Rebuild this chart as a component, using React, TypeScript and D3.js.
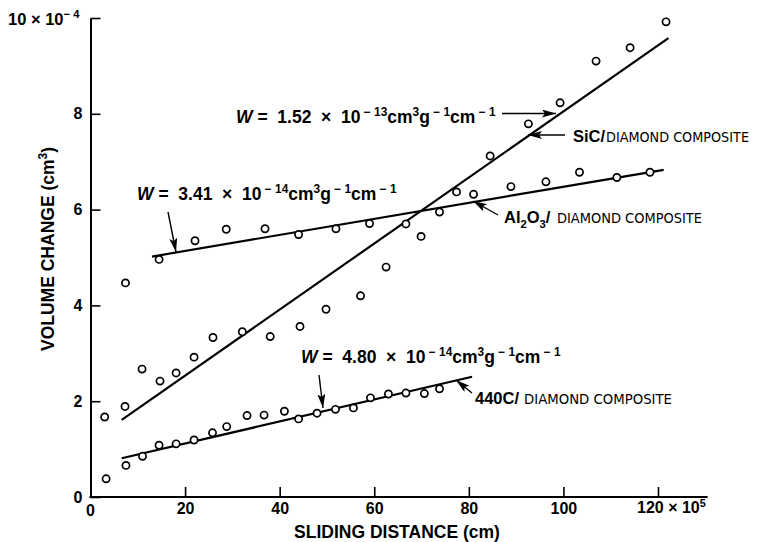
import React, { useEffect, useRef } from 'react';
import * as d3 from 'd3';

// values (sliding distance x 10^5 cm, volume change x 10^-4 cm^3)
const sicX = [3.0, 7.3, 10.9, 14.7, 18.1, 21.9, 25.9, 32.1, 38.0, 44.3, 49.8, 57.1, 62.5, 69.9, 77.4, 84.5, 92.6, 99.3, 106.9, 114.1, 121.7];
const sicY = [1.67, 1.89, 2.67, 2.42, 2.59, 2.92, 3.33, 3.45, 3.35, 3.56, 3.92, 4.2, 4.8, 5.44, 6.37, 7.12, 7.79, 8.23, 9.1, 9.38, 9.92];

const alX = [7.4, 14.5, 22.1, 28.7, 36.9, 44.0, 51.9, 59.0, 66.7, 73.8, 81.0, 88.9, 96.3, 103.4, 111.3, 118.3];
const alY = [4.47, 4.96, 5.35, 5.59, 5.6, 5.48, 5.6, 5.71, 5.7, 5.95, 6.32, 6.48, 6.58, 6.78, 6.67, 6.78];

const c440X = [3.3, 7.5, 11.0, 14.5, 18.1, 21.9, 25.8, 28.8, 33.1, 36.7, 41.0, 44.0, 47.9, 51.8, 55.6, 59.2, 63.0, 66.7, 70.6, 73.8];
const c440Y = [0.38, 0.66, 0.85, 1.08, 1.11, 1.19, 1.34, 1.47, 1.7, 1.71, 1.79, 1.63, 1.75, 1.83, 1.86, 2.07, 2.15, 2.17, 2.16, 2.26];

// fitted lines (end points)
const sicLineX = [6.6, 122.2];
const sicLineY = [1.61, 9.58];
const alLineX = [13.0, 121.2];
const alLineY = [5.02, 6.83];
const c440LineX = [6.6, 80.7];
const c440LineY = [0.81, 2.51];

const xTicks = [0, 20, 40, 60, 80, 100, 120];
const yTicks = [0, 2, 4, 6, 8, 10];

type Seg = { t: string; sup?: boolean; sub?: boolean; it?: boolean };

function richText(g: any, x: number, y: number, segs: Seg[], size: number) {
  const t = g
    .append('text')
    .attr('x', x)
    .attr('y', y)
    .attr('font-size', size)
    .attr('font-weight', 'bold')
    .style('white-space', 'pre');
  let shift = 0;
  segs.forEach((s) => {
    const target = s.sup ? -size * 0.4 : s.sub ? size * 0.28 : 0;
    const sp = t
      .append('tspan')
      .attr('dy', target - shift)
      .text(s.t);
    if (s.sup || s.sub) sp.attr('font-size', size * 0.68);
    if (s.it) sp.attr('font-style', 'italic');
    shift = target;
  });
  return t;
}

export default function App() {
  const ref = useRef(null);

  useEffect(() => {
    if (!ref.current) return;
    d3.select(ref.current).selectAll('*').remove();

    const svg = d3
      .select(ref.current)
      .append('svg')
      .attr('width', 757)
      .attr('height', 542)
      .style('position', 'absolute')
      .style('left', 0)
      .style('top', 0)
      .style('background', '#fff')
      .attr('font-family', '"Liberation Sans", Arial, sans-serif');

    var x = d3.scaleLinear().domain([0, 120]).range([90.5, 658]);
    var y = d3.scaleLinear().domain([0, 10]).range([497, 18]);

    svg
      .append('defs')
      .append('marker')
      .attr('id', 'head')
      .attr('markerUnits', 'userSpaceOnUse')
      .attr('markerWidth', 16)
      .attr('markerHeight', 10)
      .attr('refX', 14)
      .attr('refY', 4)
      .attr('orient', 'auto')
      .append('path')
      .attr('d', 'M0,0 L14,4 L0,8 L3,4 z')
      .attr('fill', '#000');

    // axes
    const xAx = x.copy().domain([0, 130.5]).range([x(0), x(130.5)]);
    const gx = svg
      .append('g')
      .attr('transform', `translate(0,${y(0)})`)
      .call(
        d3
          .axisBottom(xAx)
          .tickValues(xTicks)
          .tickSize(-10)
          .tickSizeOuter(0)
          .tickPadding(6)
          .tickFormat((d: any) => (d === 0 || d === 120 ? '' : String(d)))
      );
    const gy = svg
      .append('g')
      .attr('transform', `translate(${x(0)},0)`)
      .call(
        d3
          .axisLeft(y)
          .tickValues(yTicks)
          .tickSize(-10)
          .tickSizeOuter(0)
          .tickPadding(8)
          .tickFormat((d: any) => (d === 10 ? '' : String(d)))
      );
    [gx, gy].forEach((g) => {
      g.select('.domain').attr('stroke-width', 2);
      g.selectAll('line').attr('stroke-width', 1.6);
      g.selectAll('text')
        .attr('font-size', 16)
        .attr('font-weight', 'bold')
        .attr('font-family', '"Liberation Sans", Arial, sans-serif')
        .attr('fill', '#000');
    });
    gx.select('.domain').attr('d', `M${x(0) - 1},0H${xAx(130.5)}`);

    svg
      .append('text')
      .attr('x', x(0))
      .attr('y', 516)
      .attr('text-anchor', 'middle')
      .attr('font-size', 16)
      .attr('font-weight', 'bold')
      .text('0');

    richText(svg, 637, 513, [{ t: '120 × 10' }, { t: '5', sup: true }], 16);
    richText(svg, 8, 25, [{ t: '10 × 10' }, { t: '− 4', sup: true }], 16.5);

    // axis titles
    svg
      .append('text')
      .attr('x', 397)
      .attr('y', 537.5)
      .attr('text-anchor', 'middle')
      .attr('font-size', 17.5)
      .attr('font-weight', 'bold')
      .text('SLIDING DISTANCE (cm)');

    const yl = richText(svg, 0, 0, [{ t: 'VOLUME CHANGE (cm' }, { t: '3', sup: true }, { t: ')' }], 17.5);
    yl.attr('text-anchor', 'middle').attr('transform', 'translate(53.5,249) rotate(-90)');

    // fitted lines
    const line = d3
      .line<[number, number]>()
      .x((d) => x(d[0]))
      .y((d) => y(d[1]));
    [
      [sicLineX, sicLineY],
      [alLineX, alLineY],
      [c440LineX, c440LineY],
    ].forEach(([lx, ly]) => {
      svg
        .append('path')
        .attr('d', line(lx.map((v, i) => [v, ly[i]] as [number, number])))
        .attr('fill', 'none')
        .attr('stroke', '#000')
        .attr('stroke-width', 2.2);
    });

    // data points
    [
      [sicX, sicY],
      [alX, alY],
      [c440X, c440Y],
    ].forEach(([px, py]) => {
      svg
        .append('g')
        .selectAll('circle')
        .data(px.map((v, i) => [v, py[i]]))
        .enter()
        .append('circle')
        .attr('cx', (d) => x(d[0]))
        .attr('cy', (d) => y(d[1]))
        .attr('r', 3.6)
        .attr('fill', '#fff')
        .attr('stroke', '#000')
        .attr('stroke-width', 1.7);
    });

    // annotations
    const arrow = (x1: number, y1: number, x2: number, y2: number) =>
      svg
        .append('line')
        .attr('x1', x1)
        .attr('y1', y1)
        .attr('x2', x2)
        .attr('y2', y2)
        .attr('stroke', '#000')
        .attr('stroke-width', 1.4)
        .attr('marker-end', 'url(#head)');

    const wSegs = (k: string, e: string): Seg[] => [
      { t: 'W', it: true },
      { t: ' =  ' + k + '  ×  10' },
      { t: ' − ' + e, sup: true },
      { t: 'cm' },
      { t: '3', sup: true },
      { t: 'g' },
      { t: ' − 1', sup: true },
      { t: 'cm' },
      { t: ' − 1', sup: true },
    ];

    richText(svg, 236, 122.5, wSegs('1.52', '13'), 17.5);
    arrow(502, 113.5, 556, 113.5);
    richText(svg, 137, 200, wSegs('3.41', '14'), 17.5);
    arrow(168, 212, 176, 252);
    richText(svg, 301, 363, wSegs('4.80', '14'), 17.5);
    arrow(319, 375, 323, 408);

    const label = (x0: number, yb: number, bold: Seg[], x1: number, len: number) => {
      richText(svg, x0, yb, bold, 16.5);
      svg
        .append('text')
        .attr('x', x1)
        .attr('y', yb)
        .attr('font-size', 14.5)
        .attr('font-family', '"DejaVu Sans Condensed", "DejaVu Sans", sans-serif')
        .attr('textLength', len)
        .attr('lengthAdjust', 'spacingAndGlyphs')
        .text('DIAMOND COMPOSITE');
    };

    label(573, 141.5, [{ t: 'SiC/' }], 606, 143);
    arrow(565, 135, 528, 135);
    label(504, 223, [{ t: 'Al' }, { t: '2', sub: true }, { t: 'O' }, { t: '3', sub: true }, { t: '/' }], 557, 145);
    arrow(498, 215, 473, 201);
    label(475, 404, [{ t: '440C/' }], 524, 148);
    arrow(472, 393, 456, 380);
  }, []);

  return <div ref={ref}></div>;
}
